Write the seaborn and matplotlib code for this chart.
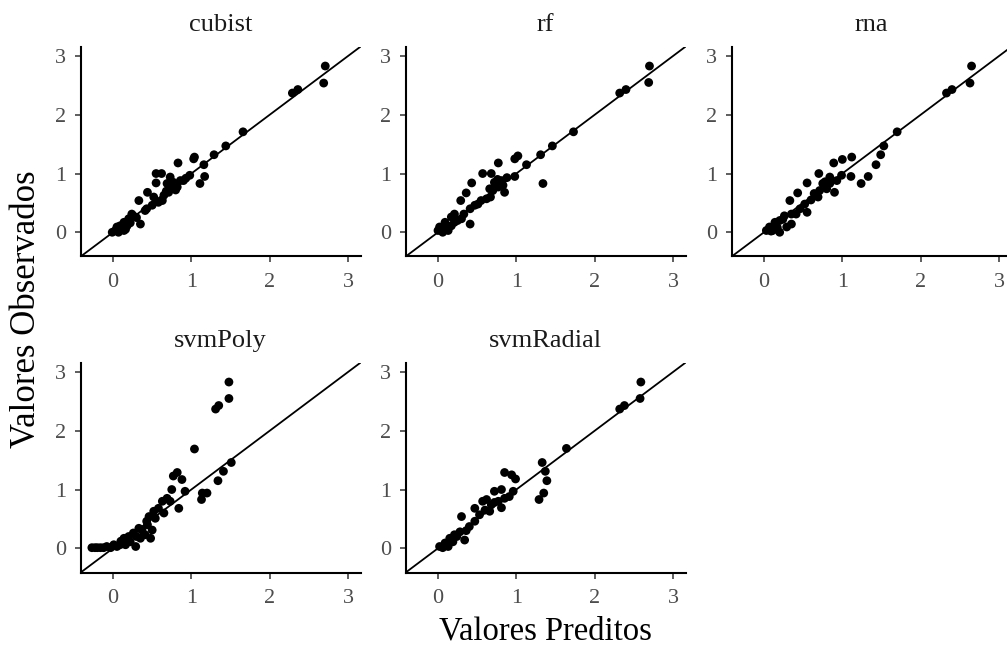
import matplotlib
matplotlib.use("Agg")
import matplotlib.pyplot as plt
import numpy as np
import pandas as pd
import seaborn as sns

# Observed vs predicted values for each fitted model
models = ["cubist", "rf", "rna", "svmPoly", "svmRadial"]

cubist_pred = [2.71, 2.69, 2.36, 2.29, 1.66, 1.44, 1.29, 1.04, 1.03, 1.16, 0.83, 1.17, 1.11,
               0.98, 0.90, 0.55, 0.62, 0.55, 0.73, 0.77, 0.73, 0.82, 0.86, 0.69, 0.44, 0.33,
               0.52, 0.63, 0.50, 0.41, 0.35, 0.26, 0.20, 0.14, 0.09, 0.03, -0.01, 0.07, 0.14,
               0.18, 0.05, 0.24, 0.43, 0.58, 0.65, 0.71, 0.78, 0.80, 0.93, 0.68, 0.12, 0.22,
               0.30, 0.16]
cubist_obs = [2.83, 2.54, 2.43, 2.37, 1.71, 1.47, 1.32, 1.28, 1.25, 1.15, 1.18, 0.95, 0.83,
              0.97, 0.88, 1.00, 1.00, 0.84, 0.94, 0.85, 0.74, 0.77, 0.88, 0.83, 0.68, 0.54,
              0.60, 0.54, 0.46, 0.37, 0.14, 0.28, 0.23, 0.17, 0.11, 0.03, 0.00, 0.00, 0.03,
              0.11, 0.09, 0.31, 0.40, 0.51, 0.63, 0.68, 0.80, 0.72, 0.92, 0.70, 0.08, 0.16,
              0.25, 0.05]

rf_pred = [2.70, 2.69, 2.40, 2.32, 1.73, 1.46, 1.31, 1.02, 0.98, 1.13, 0.77, 1.34, 0.98,
           0.57, 0.68, 0.43, 0.36, 0.29, 0.72, 0.81, 0.77, 0.85, 0.70, 0.67, 0.55, 0.47,
           0.41, 0.33, 0.41, 0.21, 0.17, 0.09, 0.02, 0.00, 0.13, 0.17, 0.21, 0.30, 0.51,
           0.62, 0.74, 0.83, 0.76, 0.88, 0.66, 0.06, 0.11, 0.25]
rf_obs = [2.83, 2.55, 2.43, 2.37, 1.71, 1.47, 1.32, 1.30, 1.25, 1.15, 1.18, 0.83, 0.95,
          1.00, 1.00, 0.84, 0.67, 0.54, 0.85, 0.88, 0.77, 0.68, 0.71, 0.60, 0.54, 0.46,
          0.40, 0.31, 0.14, 0.31, 0.26, 0.17, 0.09, 0.03, 0.03, 0.11, 0.17, 0.23, 0.48,
          0.57, 0.83, 0.80, 0.90, 0.93, 0.74, 0.00, 0.06, 0.20]

rna_pred = [2.65, 2.63, 2.40, 2.33, 1.70, 1.53, 1.49, 1.43, 1.12, 1.00, 0.89, 1.11, 1.33,
            1.24, 0.99, 0.70, 0.55, 0.43, 0.33, 0.84, 0.75, 0.90, 0.80, 0.69, 0.60, 0.52,
            0.55, 0.46, 0.35, 0.35, 0.26, 0.20, 0.14, 0.07, 0.03, 0.11, 0.20, 0.29, 0.41,
            0.84, 0.71, 0.78, 0.93, 0.64, 0.09, 0.17, 0.24]
rna_obs = [2.83, 2.54, 2.43, 2.37, 1.71, 1.47, 1.32, 1.15, 1.28, 1.24, 1.18, 0.95, 0.95,
           0.83, 0.97, 1.00, 0.84, 0.67, 0.54, 0.94, 0.83, 0.68, 0.74, 0.60, 0.55, 0.48,
           0.34, 0.40, 0.31, 0.14, 0.28, 0.20, 0.17, 0.09, 0.03, 0.03, 0.00, 0.09, 0.31,
           0.83, 0.71, 0.86, 0.88, 0.66, 0.02, 0.08, 0.22]

svmpoly_pred = [1.48, 1.48, 1.35, 1.31, 1.04, 1.51, 1.41, 1.34, 0.82, 0.77, 0.88, 0.92,
                0.75, 1.13, 1.20, 1.14, 0.84, 0.69, 0.63, 0.58, 0.52, 0.46, 0.43, 0.50,
                0.48, 0.37, 0.33, 0.26, 0.20, 0.14, 0.29, 0.09, 0.01, -0.08, -0.16, -0.27,
                -0.23, -0.12, -0.03, 0.05, 0.16, 0.22, 0.35, 0.41, 0.54, 0.65, 0.73, -0.20,
                0.10, 0.30, 0.44]
svmpoly_obs = [2.83, 2.55, 2.43, 2.37, 1.69, 1.46, 1.31, 1.15, 1.29, 1.23, 1.17, 0.97,
               1.00, 0.83, 0.94, 0.94, 0.68, 0.85, 0.80, 0.68, 0.63, 0.54, 0.46, 0.31,
               0.17, 0.31, 0.34, 0.26, 0.20, 0.17, 0.03, 0.06, 0.06, 0.03, 0.01, 0.01,
               0.01, 0.01, 0.01, 0.03, 0.06, 0.11, 0.17, 0.23, 0.51, 0.60, 0.80, 0.01,
               0.12, 0.20, 0.40]

svmradial_pred = [2.59, 2.58, 2.38, 2.32, 1.64, 1.33, 1.37, 1.39, 1.35, 1.29, 0.85, 0.94,
                  0.99, 0.96, 0.81, 0.72, 0.62, 0.57, 0.81, 0.85, 0.68, 0.60, 0.47, 0.30,
                  0.47, 0.40, 0.34, 0.28, 0.21, 0.15, 0.09, 0.02, 0.13, 0.19, 0.53, 0.66,
                  0.77, 0.91, 0.72, 0.36, 0.06, 0.24]
svmradial_obs = [2.83, 2.55, 2.43, 2.37, 1.70, 1.46, 1.31, 1.15, 0.94, 0.83, 1.29, 1.25,
                 1.18, 0.97, 1.00, 0.97, 0.83, 0.80, 0.69, 0.85, 0.74, 0.65, 0.68, 0.54,
                 0.46, 0.37, 0.14, 0.28, 0.23, 0.17, 0.09, 0.03, 0.03, 0.11, 0.57, 0.63,
                 0.80, 0.88, 0.78, 0.30, 0.01, 0.20]

tick_values = [0, 1, 2, 3]
scale_limits = (-0.25, 3.0)

series = {
    "cubist": (cubist_pred, cubist_obs),
    "rf": (rf_pred, rf_obs),
    "rna": (rna_pred, rna_obs),
    "svmPoly": (svmpoly_pred, svmpoly_obs),
    "svmRadial": (svmradial_pred, svmradial_obs),
}
df = pd.concat(
    [pd.DataFrame({"modelo": m, "pred": p, "obs": o}) for m, (p, o) in series.items()],
    ignore_index=True,
)

sns.set_theme(style="ticks")
plt.rcParams["font.family"] = ["Liberation Serif", "DejaVu Serif"]

W, H = 1007, 646
fig = plt.figure(figsize=(W / 100, H / 100), dpi=100)

# shared scale with 5% expansion on both ends
span = scale_limits[1] - scale_limits[0]
lims = (scale_limits[0] - 0.05 * span, scale_limits[1] + 0.05 * span)

col_left = [80.7, 405.7, 731.7]
row_top = [46.5, 362.5]
pw, ph = 280, 210

for i, m in enumerate(models):
    r, c = divmod(i, 3)
    ax = fig.add_axes([col_left[c] / W, 1 - (row_top[r] + ph) / H, pw / W, ph / H])
    sub = df[df["modelo"] == m]
    sns.scatterplot(data=sub, x="pred", y="obs", ax=ax, color="black", s=40,
                    edgecolor="none", linewidth=0, legend=False, zorder=3)
    ax.axline((0, 0), slope=1, color="black", lw=1.3, zorder=2)
    ax.set_xlim(lims)
    ax.set_ylim(lims)
    ax.set_xticks(tick_values)
    ax.set_yticks(tick_values)
    ax.set_xlabel("")
    ax.set_ylabel("")
    ax.set_title(m, fontsize=19, pad=11.5, color="#1A1A1A")
    for side in ("top", "right"):
        ax.spines[side].set_visible(False)
    for side in ("left", "bottom"):
        ax.spines[side].set_linewidth(1.5)
        ax.spines[side].set_color("black")
    ax.tick_params(axis="both", length=4, width=1.1, color="#333333",
                   labelcolor="#4D4D4D", labelsize=16)
    ax.tick_params(axis="x", pad=8)
    ax.tick_params(axis="y", pad=6.5)
    ax.set_facecolor("white")

fig.text(545 / W, 1 - 639 / H, "Valores Preditos", ha="center", va="baseline",
         fontsize=23.5, color="black")
fig.text(27 / W, 1 - 309.5 / H, "Valores Observados", ha="center", va="center",
         rotation=90, fontsize=25, color="black")

fig.savefig("out.png", dpi=100, facecolor="white")
